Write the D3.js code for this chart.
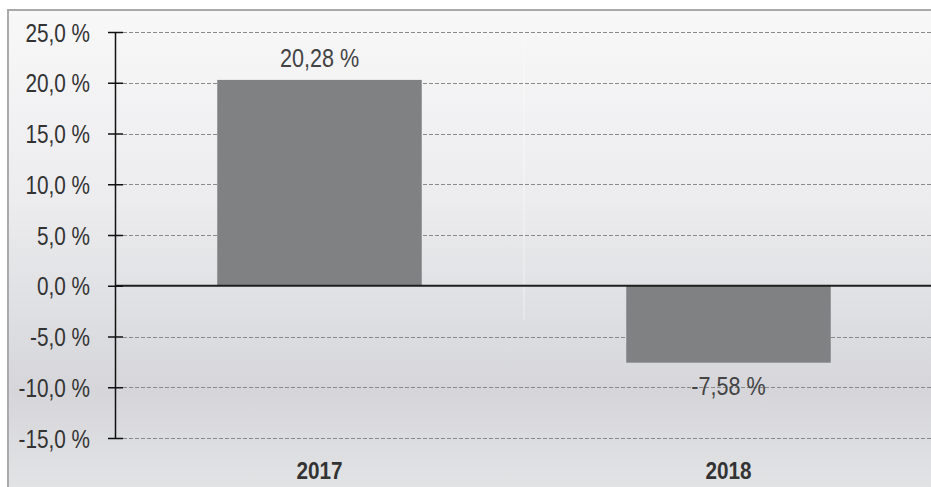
<!DOCTYPE html>
<html><head><meta charset="utf-8">
<script src="https://cdn.jsdelivr.net/npm/d3@7"></script>
<style>html,body{margin:0;padding:0;background:#fff;}svg{display:block;}</style>
</head><body>
<script>
const categories = ["2017", "2018"];
const values = [20.28, -7.58];
const valueLabels = ["20,28 %", "-7,58 %"];
const yTicks = [25, 20, 15, 10, 5, 0, -5, -10, -15];
const yTickLabels = ["25,0 %", "20,0 %", "15,0 %", "10,0 %", "5,0 %", "0,0 %", "-5,0 %", "-10,0 %", "-15,0 %"];

const W = 931, H = 487;
const svg = d3.select("body").append("svg").attr("width", W).attr("height", H);
const defs = svg.append("defs");
const grad = defs.append("linearGradient").attr("id", "bg").attr("x1", 0).attr("y1", 0).attr("x2", 0).attr("y2", 1);
[[0, "#f8f8f9"], [0.4, "#ececee"], [0.62, "#dfe0e3"], [0.8, "#d6d6da"], [1, "#e2e3e5"]].forEach(s =>
  grad.append("stop").attr("offset", s[0]).attr("stop-color", s[1]));

svg.append("rect").attr("x", 9).attr("y", 11).attr("width", W - 9).attr("height", H - 11).attr("fill", "url(#bg)");
svg.append("line").attr("x1", 8).attr("x2", W).attr("y1", 10).attr("y2", 10).attr("stroke", "#aaaaaa").attr("stroke-width", 2);
svg.append("line").attr("x1", 8).attr("x2", 8).attr("y1", 9).attr("y2", H).attr("stroke", "#aaaaaa").attr("stroke-width", 2);

const y = d3.scaleLinear().domain([-15, 25]).range([438, 32]);
const x = d3.scaleBand().domain(categories).range([115, 933]).paddingInner(0.5).paddingOuter(0.25);

const numFont = "'Liberation Sans',Arial,sans-serif";
const SX = 0.83;

// gridlines
svg.append("g").selectAll("line").data(yTicks.filter(d => d !== 0)).join("line")
  .attr("x1", 123).attr("x2", W).attr("y1", d => Math.round(y(d)) + 0.5).attr("y2", d => Math.round(y(d)) + 0.5)
  .attr("stroke", "#8a8a8c").attr("stroke-width", 1).attr("stroke-dasharray", "4,2");

// faint divider
svg.append("line").attr("x1", x.step() + 115).attr("x2", x.step() + 115)
  .attr("y1", y(25)).attr("y2", y(-3.4)).attr("stroke", "#ffffff").attr("stroke-opacity", 0.35).attr("stroke-width", 1.5);

// bars
svg.append("g").selectAll("rect").data(values).join("rect")
  .attr("x", (d, i) => x(categories[i])).attr("width", x.bandwidth())
  .attr("y", d => y(Math.max(0, d))).attr("height", d => Math.abs(y(d) - y(0)))
  .attr("fill", "#7f8183");

// zero line
svg.append("line").attr("x1", 115).attr("x2", W).attr("y1", y(0)).attr("y2", y(0))
  .attr("stroke", "#1e1e1e").attr("stroke-width", 2);

// y axis
const yAxis = d3.axisLeft(y).tickValues(yTicks).tickSize(0).tickFormat((d, i) => yTickLabels[i]);
const gy = svg.append("g").attr("transform", "translate(115,0)").call(yAxis);
gy.select(".domain").attr("stroke", "#111").attr("stroke-width", 1.5);
gy.selectAll(".tick line").attr("x1", -7).attr("x2", 8).attr("stroke", "#111").attr("stroke-width", 1.5);
gy.selectAll(".tick text").attr("x", -25 / SX).attr("dy", "0.36em").attr("transform", `scale(${SX},1)`)
  .attr("font-family", numFont).attr("font-size", 25).attr("fill", "#333");

// value labels
svg.append("g").selectAll("text").data(values).join("text")
  .attr("transform", (d, i) => `translate(${x(categories[i]) + x.bandwidth() / 2},${d >= 0 ? y(d) - 13 : y(d) + 32}) scale(${SX},1)`)
  .attr("text-anchor", "middle").attr("font-family", numFont).attr("font-size", 26).attr("fill", "#444")
  .text((d, i) => valueLabels[i]);

// x axis labels
const xAxis = d3.axisBottom(x).tickSize(0);
const gx = svg.append("g").attr("transform", "translate(0,462)").call(xAxis);
gx.select(".domain").remove();
gx.selectAll(".tick text").attr("y", 0).attr("dy", "0.72em").attr("transform", "scale(0.9,1)")
  .attr("font-family", "'Liberation Sans',Arial,sans-serif").attr("font-weight", "bold").attr("font-size", 23).attr("fill", "#333");
</script>
</body></html>
